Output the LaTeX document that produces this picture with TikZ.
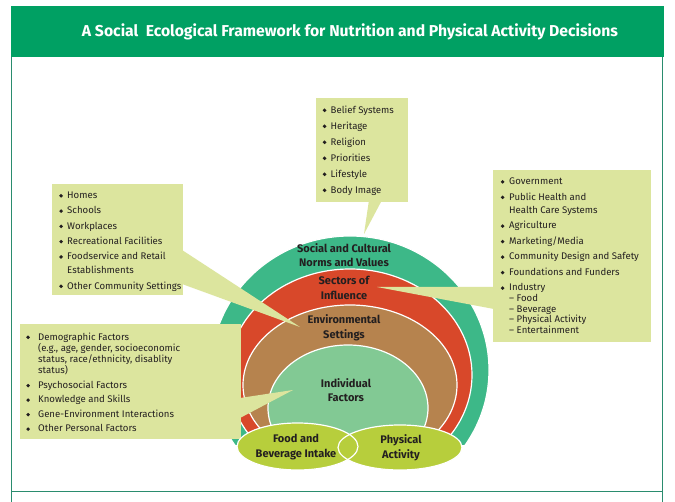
\documentclass[tikz,border=0pt]{standalone}
\usepackage{fontspec}
\setmainfont{Fira Sans}
\definecolor{hdrgreen}{HTML}{00A063}
\definecolor{framegreen}{HTML}{2A8C6E}
\definecolor{ringA}{HTML}{3DB888}
\definecolor{ringB}{HTML}{D8482A}
\definecolor{ringC}{HTML}{B6834E}
\definecolor{ringD}{HTML}{82C994}
\definecolor{lime}{HTML}{B7CE3C}
\definecolor{callout}{HTML}{DCE59E}
\definecolor{ink}{HTML}{231F20}
\newlength\bulw
\newcommand\bl{\rule{0pt}{7pt}\makebox[\bulw][l]{\tikz[baseline=0pt]{\fill[ink] (2pt,2.8pt) circle (1.9pt);}}}
\newcommand\ci{\hspace*{\bulw}}
\begin{document}
\begin{tikzpicture}[x=1pt,y=-1pt,
  ring/.style={draw=white, line width=1.2pt},
  cbox/.style={fill=callout, anchor=north west, inner sep=0pt},
  ctext/.style={anchor=north west, align=left, inner sep=0pt, text=ink},
  lbl/.style={font=\bfseries\fontsize{11}{14.5}\selectfont, align=center, text=ink, inner sep=0pt}]
\useasboundingbox (0,0) rectangle (675,502);
\fill[white] (0,0) rectangle (675,502);
% header
\node[fill=hdrgreen, anchor=north west, minimum width=653pt, minimum height=51pt, inner sep=0pt] (header) at (11,6) {};
\node[text=white, font=\bfseries, inner sep=0pt] (title) at (350,32) {\resizebox{536pt}{!}{A Social\ \ Ecological Framework for Nutrition and Physical Activity Decisions}};
% frame
\draw[framegreen, line width=1.3pt] (11.6,57) -- (11.6,502) (662.8,57) -- (662.8,502) (11.6,491.5) -- (662.8,491.5);
% rings
\begin{scope}
\clip (0,0) rectangle (675,445);
\draw[ring, fill=ringA] (350,370) ellipse [x radius=139pt, y radius=134pt];
\draw[ring, fill=ringB] (350,375) ellipse [x radius=122pt, y radius=106pt];
\draw[ring, fill=ringC] (350,385) ellipse [x radius=107pt, y radius=80pt];
\draw[ring, fill=ringD] (348,408) ellipse [x radius=80pt, y radius=63pt];
\end{scope}
% callout pointers
\coordinate (w1a) at (369,200); \coordinate (w1b) at (382,200); \coordinate (w1tip) at (364,234);
\coordinate (w2a) at (182,250); \coordinate (w2b) at (182,284); \coordinate (w2tip) at (300,327);
\coordinate (w3a) at (494,287); \coordinate (w3b) at (494,309); \coordinate (w3tip) at (377,287);
\coordinate (w4a) at (240,398); \coordinate (w4b) at (240,418); \coordinate (w4tip) at (293,390);
\fill[callout] (w1a) -- (w1b) -- (w1tip) -- cycle;
\fill[callout] (w2a) -- (w2tip) -- (w2b) -- cycle;
\fill[callout] (w3a) -- (w3tip) -- (w3b) -- cycle;
\fill[callout] (w4a) -- (w4tip) -- (w4b) -- cycle;
% boxes
\node[cbox, minimum width=92pt, minimum height=104pt] (box1) at (316,98) {};
\node[cbox, minimum width=131pt, minimum height=111pt] (box2) at (52,184) {};
\node[cbox, minimum width=158pt, minimum height=172pt] (box3) at (493,170) {};
\node[cbox, minimum width=221pt, minimum height=115pt] (box4) at (20,324) {};
% box texts
\node[ctext, font={\setlength\bulw{8pt}\fontsize{9.6}{16}\selectfont}] (t1) at (322.5,105.4)
 {\bl Belief Systems\\\bl Heritage\\\bl Religion\\\bl Priorities\\\bl Lifestyle\\\bl Body Image};
\node[ctext, font={\setlength\bulw{8pt}\fontsize{9.6}{15.3}\selectfont}] (t2) at (59,191.4)
 {\bl Homes\\\bl Schools\\\bl Workplaces\\\bl Recreational Facilities\\\bl Foodservice and Retail\\[-1.3pt]\ci Establishments\\\bl Other Community Settings};
\node[ctext, font={\setlength\bulw{8.5pt}\fontsize{9.6}{15.5}\selectfont}] (t3) at (500.5,177.4)
 {\bl Government\\\bl Public Health and\\[-2.2pt]\ci Health Care Systems\\\bl Agriculture\\\bl Marketing/Media\\\bl Community Design and Safety\\\bl Foundations and Funders\\\bl Industry\\[-4.8pt]\ci -- Food\\[-4.8pt]\ci -- Beverage\\[-4.8pt]\ci -- Physical Activity\\[-4.8pt]\ci -- Entertainment};
\node[ctext, font={\setlength\bulw{12pt}\fontsize{9.6}{14.5}\selectfont}] (t4) at (26,332.4)
 {\bl Demographic Factors\\[-3.2pt]\ci (e.g., age, gender, socioeconomic\\[-3.2pt]\ci status, race/ethnicity, disablity\\[-3.2pt]\ci status)\\\bl Psychosocial Factors\\\bl Knowledge and Skills\\\bl Gene-Environment Interactions\\\bl Other Personal Factors};
% bottom ellipses
\fill[lime] (297.5,446.5) ellipse [x radius=60.5pt, y radius=23.5pt];
\fill[lime] (400,447.5) ellipse [x radius=62pt, y radius=22.5pt];
\draw[white, line width=1.2pt] (297.5,446.5) ellipse [x radius=60.5pt, y radius=23.5pt];
\draw[white, line width=1.2pt] (400,447.5) ellipse [x radius=62pt, y radius=22.5pt];
% ring labels
\node[lbl] (social) at (344,255) {Social and Cultural\\Norms and Values};
\node[lbl] (sectors) at (344,288) {Sectors of\\Influence};
\node[lbl] (envset) at (344,328) {Environmental\\Settings};
\node[lbl] (indiv) at (346,390) {Individual\\Factors};
\node[lbl] (food) at (296,447) {Food and\\Beverage Intake};
\node[lbl] (phys) at (401,448) {Physical\\Activity};
\end{tikzpicture}
\end{document}
